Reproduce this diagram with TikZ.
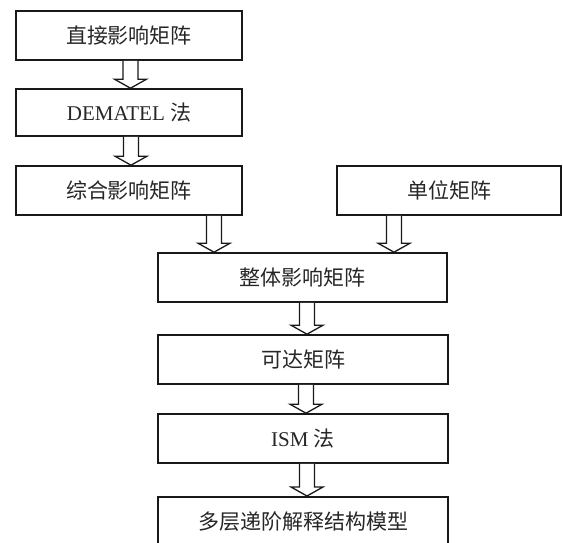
\documentclass[tikz,border=0pt]{standalone}
\usepackage{fontspec}
\setmainfont{Liberation Serif}
\newfontfamily\cjk{Noto Sans CJK SC}
\usetikzlibrary{calc}
\tikzset{
  box/.style={draw=black!90, line width=1.6pt, minimum height=49pt, inner sep=0pt,
    font=\fontsize{21pt}{24pt}\selectfont, text=black!85},
  barrow/.style={draw=black!90, fill=white, line width=1.3pt, line join=miter}
}
\newcommand\blockarr[3]{%
  \draw[barrow] let \p1=(#2.south), \p2=(#3.north) in
    ({#1pt-7.5pt},\y1) -- ({#1pt-7.5pt},{\y2+9pt}) -- ({#1pt-16pt},{\y2+9pt})
    -- (#1pt,\y2) -- ({#1pt+16pt},{\y2+9pt}) -- ({#1pt+7.5pt},{\y2+9pt})
    -- ({#1pt+7.5pt},\y1);}
\begin{document}
\begin{tikzpicture}[x=1pt,y=-1pt]
\useasboundingbox (0,0) rectangle (563,542);
\node[box, minimum width=226pt] (b1) at (129,35.5) {\cjk 直接影响矩阵};
\node[box, minimum width=226pt, minimum height=47pt] (b2) at (129,112.5) {DEMATEL {\cjk 法}};
\node[box, minimum width=226pt] (b3) at (129,190.5) {\cjk 综合影响矩阵};
\node[box, minimum width=224pt] (bu) at (449,190.5) {\cjk 单位矩阵};
\node[box, minimum width=289pt] (b4) at (302.5,277.5) {\cjk 整体影响矩阵};
\node[box, minimum width=290pt] (b5) at (303,359.5) {\cjk 可达矩阵};
\node[box, minimum width=290pt] (b6) at (303,438.5) {ISM {\cjk 法}};
\node[box, minimum width=290pt, minimum height=50pt, anchor=north] (b7) at (303,496) {\raisebox{0pt}{\cjk 多层递阶解释结构模型}};
\blockarr{130.5}{b1}{b2}
\blockarr{131}{b2}{b3}
\blockarr{214}{b3}{b4}
\blockarr{394}{bu}{b4}
\blockarr{307}{b4}{b5}
\blockarr{306}{b5}{b6}
\blockarr{307}{b6}{b7}
\end{tikzpicture}
\end{document}
